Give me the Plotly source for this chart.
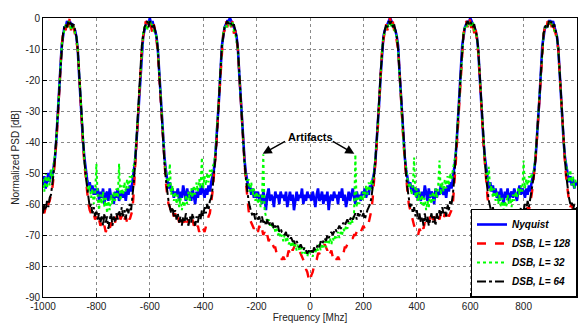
import plotly.graph_objects as go

# Frequency grid [MHz], 5 MHz step
freq = list(range(-1000, 1001, 5))

nyquist = [
 -54,-51,-55,-52,-50,-53,-49,-51,-48,-45,-39,-32,-25,-17,-9,-6,-3,-3,-1,-2,
 -1,-2,-2,-3,-4,-6,-10,-18,-26,-33,-40,-45,-49,-52,-54,-53,-56,-54,-57,-55,
 -57,-55,-59,-56,-58,-55,-60,-57,-56,-59,-55,-58,-57,-60,-56,-58,-55,-59,-57,-56,
 -58,-56,-59,-55,-57,-54,-56,-53,-50,-46,-40,-33,-26,-18,-10,-6,-4,-2,-1,-2,
 0,-2,-1,-3,-4,-6,-10,-17,-25,-33,-40,-45,-49,-52,-55,-53,-56,-55,-58,-56,
 -57,-55,-59,-56,-58,-54,-57,-59,-55,-58,-56,-59,-55,-57,-60,-56,-58,-55,-57,-54,
 -56,-58,-55,-57,-54,-56,-53,-51,-49,-45,-39,-32,-25,-17,-9,-6,-3,-2,-1,-1,
 0,-1,-2,-3,-4,-6,-10,-18,-26,-34,-41,-46,-50,-53,-55,-54,-57,-55,-58,-56,
 -58,-56,-59,-57,-60,-56,-58,-62,-57,-55,-59,-57,-58,-61,-56,-58,-57,-60,-56,-58,
 -57,-59,-56,-61,-58,-56,-59,-57,-62,-58,-56,-59,-57,-58,-55,-60,-57,-59,-56,-58,
 -57,-59,-56,-58,-61,-57,-55,-59,-58,-56,-60,-57,-59,-56,-62,-58,-57,-59,-56,-58,
 -57,-60,-56,-58,-55,-59,-57,-61,-58,-56,-59,-57,-55,-58,-60,-56,-58,-57,-59,-56,
 -57,-55,-58,-56,-57,-54,-55,-52,-50,-46,-40,-33,-26,-18,-10,-6,-4,-3,-2,-1,
 0,-1,-2,-3,-4,-6,-9,-17,-25,-32,-39,-45,-49,-52,-54,-53,-56,-54,-57,-55,
 -58,-55,-57,-59,-56,-58,-54,-57,-59,-55,-58,-56,-57,-60,-55,-58,-56,-57,-54,-56,
 -57,-55,-58,-54,-56,-53,-55,-52,-49,-45,-39,-32,-25,-17,-9,-6,-3,-2,-1,-2,
 0,-1,-2,-3,-4,-6,-10,-18,-26,-33,-40,-45,-49,-52,-55,-53,-56,-54,-57,-55,
 -58,-56,-59,-55,-57,-60,-56,-58,-55,-59,-57,-56,-58,-55,-57,-59,-56,-54,-57,-55,
 -56,-58,-55,-57,-54,-56,-53,-51,-49,-45,-39,-32,-25,-17,-9,-6,-3,-3,-2,-1,
 -1,-2,-1,-3,-4,-6,-10,-18,-26,-33,-40,-45,-48,-50,-53,-51,-54,-52,-55,-53,
 -54]

dsb_128 = [
 -62,-63,-61,-62,-60,-59,-57,-55,-51,-46,-40,-33,-25,-16,-9,-5,-3,-4,-1,-3,
 0,-4,-1,-3,-5,-7,-10,-17,-26,-33,-41,-47,-52,-56,-60,-62,-63,-64,-63,-65,
 -64,-66,-65,-67,-66,-68,-67,-69,-68,-69,-68,-66,-67,-65,-66,-64,-65,-63,-65,-64,
 -63,-65,-64,-66,-64,-65,-63,-62,-56,-48,-41,-33,-26,-17,-10,-6,-3,-1,-2,0,
 -1,-3,-5,-2,-4,-7,-11,-18,-26,-34,-42,-48,-53,-57,-60,-61,-63,-62,-64,-63,
 -65,-64,-66,-65,-67,-65,-66,-64,-66,-65,-67,-66,-65,-67,-66,-68,-67,-69,-68,-69,
 -68,-69,-67,-66,-64,-63,-60,-56,-51,-46,-40,-32,-25,-17,-9,-5,-4,-1,-3,-1,
 -1,-3,-1,-5,-4,-7,-10,-18,-26,-34,-41,-47,-53,-58,-62,-65,-66,-67,-68,-67,
 -68,-69,-67,-69,-68,-70,-69,-71,-70,-72,-71,-73,-73,-74,-74,-76,-76,-77,-77,-78,
 -77,-78,-76,-77,-75,-76,-74,-75,-74,-73,-74,-74,-75,-76,-77,-78,-79,-81,-82,-84,
 -85,-83,-82,-80,-79,-78,-76,-76,-75,-74,-74,-73,-74,-75,-74,-76,-75,-77,-76,-77,
 -78,-77,-78,-77,-76,-76,-74,-74,-73,-72,-72,-71,-71,-70,-70,-69,-69,-68,-69,-68,
 -67,-68,-67,-66,-66,-64,-62,-58,-53,-47,-41,-34,-26,-18,-10,-7,-4,-2,-4,-1,
 0,-3,-1,-4,-5,-7,-10,-17,-26,-33,-40,-46,-52,-56,-60,-62,-64,-65,-67,-68,
 -69,-70,-68,-69,-67,-68,-66,-67,-65,-66,-64,-66,-65,-64,-66,-65,-64,-65,-63,-64,
 -65,-63,-64,-62,-64,-63,-62,-60,-55,-48,-41,-33,-26,-17,-9,-5,-3,-1,-3,0,
 -1,-4,-2,-5,-3,-7,-11,-18,-27,-34,-41,-47,-53,-58,-61,-63,-62,-64,-63,-65,
 -64,-66,-65,-67,-66,-67,-68,-67,-68,-69,-68,-67,-68,-66,-67,-65,-66,-64,-65,-63,
 -64,-62,-63,-61,-62,-60,-57,-54,-50,-45,-39,-32,-25,-17,-9,-5,-3,-4,-1,-2,
 0,-3,-1,-4,-5,-7,-10,-18,-26,-34,-41,-47,-52,-56,-59,-61,-60,-62,-61,-63,
 -62]

dsb_32 = [
 -52,-56,-50,-55,-51,-54,-49,-52,-47,-44,-39,-32,-24,-17,-9,-6,-4,-2,-3,-1,
 -2,-4,-2,-3,-5,-6,-10,-18,-26,-33,-40,-46,-50,-53,-56,-54,-58,-55,-60,-57,
 -47,-58,-62,-57,-60,-56,-61,-58,-63,-59,-62,-57,-60,-56,-59,-55,-58,-47,-59,-54,
 -57,-53,-56,-52,-55,-51,-53,-50,-48,-45,-39,-32,-25,-17,-9,-5,-3,-2,-4,-1,
 -2,-1,-3,-4,-5,-6,-10,-17,-25,-33,-40,-45,-50,-53,-55,-47,-57,-54,-59,-56,
 -60,-57,-61,-58,-62,-59,-61,-57,-60,-56,-59,-55,-58,-54,-57,-53,-56,-52,-55,-45,
 -55,-51,-54,-50,-53,-49,-51,-48,-47,-44,-38,-31,-24,-16,-9,-5,-3,-2,-3,-1,
 -2,-3,-1,-4,-5,-7,-10,-18,-26,-34,-41,-47,-51,-54,-52,-56,-53,-57,-55,-59,
 -56,-60,-57,-61,-59,-44,-62,-64,-66,-65,-67,-66,-68,-67,-69,-68,-70,-69,-71,-70,
 -72,-70,-72,-71,-73,-72,-74,-72,-74,-73,-75,-73,-75,-74,-76,-74,-76,-75,-77,-75,
 -76,-75,-77,-75,-76,-74,-75,-73,-75,-73,-74,-72,-74,-72,-73,-71,-73,-71,-72,-70,
 -71,-69,-71,-69,-70,-68,-69,-67,-68,-66,-67,-65,-66,-63,-44,-61,-58,-60,-57,-59,
 -56,-58,-54,-57,-53,-56,-52,-54,-50,-46,-40,-33,-25,-17,-10,-6,-4,-3,-2,-3,
 -1,-3,-2,-4,-5,-6,-10,-18,-26,-33,-40,-45,-49,-52,-55,-53,-57,-54,-45,-58,
 -55,-59,-56,-60,-57,-61,-58,-62,-59,-61,-57,-60,-56,-59,-55,-58,-54,-46,-57,-53,
 -56,-52,-55,-51,-54,-50,-52,-49,-47,-44,-38,-31,-24,-16,-9,-5,-3,-2,-3,-1,
 -2,-3,-1,-4,-5,-6,-10,-18,-26,-34,-40,-46,-50,-53,-48,-56,-54,-58,-55,-59,
 -56,-60,-57,-61,-58,-62,-59,-61,-57,-60,-58,-61,-57,-59,-56,-58,-55,-57,-54,-56,
 -46,-55,-52,-54,-51,-53,-50,-51,-48,-44,-38,-31,-24,-16,-9,-5,-3,-2,-3,-1,
 -2,-1,-3,-4,-5,-6,-10,-18,-26,-33,-40,-45,-48,-50,-53,-49,-54,-51,-55,-52,
 -53]

dsb_64 = [
 -63,-60,-62,-59,-61,-58,-57,-54,-50,-45,-39,-32,-25,-17,-9,-5,-3,-2,-3,-1,
 -2,-1,-3,-2,-4,-6,-10,-18,-26,-33,-40,-46,-51,-55,-58,-61,-60,-63,-61,-64,
 -62,-65,-63,-66,-64,-67,-63,-66,-64,-68,-65,-63,-67,-64,-66,-63,-65,-62,-64,-61,
 -64,-62,-65,-61,-63,-60,-62,-58,-53,-47,-40,-33,-25,-17,-9,-6,-3,-2,-1,-3,
 -1,-2,-3,-2,-4,-6,-10,-18,-26,-34,-41,-47,-52,-56,-59,-61,-63,-61,-64,-62,
 -65,-63,-66,-64,-67,-64,-66,-63,-65,-67,-64,-66,-63,-65,-67,-64,-66,-63,-65,-62,
 -64,-61,-63,-60,-62,-59,-58,-55,-51,-46,-40,-32,-25,-17,-9,-6,-3,-2,-1,-2,
 -1,-2,-3,-2,-4,-6,-10,-18,-26,-34,-41,-47,-52,-56,-59,-61,-63,-64,-63,-65,
 -63,-65,-64,-66,-64,-66,-65,-67,-65,-67,-66,-67,-66,-68,-67,-68,-67,-69,-68,-69,
 -69,-70,-69,-71,-70,-71,-71,-72,-72,-73,-72,-73,-74,-73,-74,-75,-74,-75,-76,-75,
 -76,-75,-76,-74,-75,-74,-73,-74,-72,-73,-72,-71,-72,-70,-71,-70,-69,-70,-69,-68,
 -69,-68,-67,-68,-67,-66,-67,-66,-65,-66,-65,-64,-65,-64,-63,-65,-63,-64,-62,-64,
 -63,-65,-63,-62,-61,-60,-58,-55,-51,-46,-40,-33,-25,-17,-10,-6,-4,-2,-3,-1,
 -2,-1,-3,-2,-4,-6,-10,-17,-25,-33,-40,-46,-51,-55,-58,-61,-60,-63,-61,-64,
 -62,-65,-63,-66,-64,-67,-63,-66,-64,-67,-65,-63,-66,-64,-67,-63,-65,-62,-64,-61,
 -63,-61,-64,-60,-62,-59,-60,-57,-52,-46,-39,-32,-25,-17,-9,-5,-3,-2,-1,-2,
 -1,-2,-3,-2,-4,-6,-10,-18,-26,-33,-40,-46,-52,-56,-59,-61,-63,-61,-64,-62,
 -65,-63,-66,-64,-67,-65,-68,-64,-66,-67,-65,-68,-64,-66,-63,-65,-62,-64,-61,-63,
 -62,-60,-62,-59,-61,-58,-56,-53,-50,-45,-39,-32,-25,-17,-9,-5,-3,-2,-3,-1,
 -2,-1,-3,-2,-4,-6,-10,-18,-26,-33,-40,-46,-51,-55,-58,-60,-59,-62,-60,-63,
 -61]

for s in (nyquist, dsb_128, dsb_32, dsb_64):
    assert len(s) == len(freq), len(s)

x_ticks = [-1000, -800, -600, -400, -200, 0, 200, 400, 600, 800, 1000]
x_tick_labels = ["-1000", "-800", "-600", "-400", "-200", "0", "200", "400", "600", "800", "1000"]
y_ticks = [-90, -80, -70, -60, -50, -40, -30, -20, -10, 0]
y_tick_labels = ["-90", "-80", "-70", "-60", "-50", "-40", "-30", "-20", "-10", "0"]

series = [
    ("Nyquist", nyquist, "#0000FF", "solid", 2.6),
    ("DSB, L= 128", dsb_128, "#FF0000", "dash", 2.4),
    ("DSB, L= 32", dsb_32, "#00FF00", "dot", 2),
    ("DSB, L= 64", dsb_64, "#000000", "dashdot", 2),
]

fig = go.Figure()
for name, vals, color, dash, w in series:
    fig.add_trace(go.Scatter(x=freq, y=vals, mode="lines", name=name,
                             line=dict(color=color, dash=dash, width=w)))

axis_common = dict(showgrid=True, gridcolor="#8a8a8a", griddash="dot", gridwidth=1,
                   zeroline=False, showline=True, linecolor="black", linewidth=1,
                   mirror=True, ticks="inside", ticklen=4, tickcolor="black")

fig.update_xaxes(range=[-1000, 1000], tickmode="array", tickvals=x_ticks,
                 ticktext=x_tick_labels,
                 title=dict(text="Frequency [Mhz]", standoff=0, font=dict(size=10)),
                 **axis_common)
fig.update_yaxes(range=[-90, 0], tickmode="array", tickvals=y_ticks,
                 ticktext=y_tick_labels,
                 title=dict(text="Normalized PSD [dB]", standoff=4, font=dict(size=10)),
                 **axis_common)

fig.add_annotation(x=0, y=-38.5, text="<b>Artifacts</b>", showarrow=False,
                   font=dict(size=11, color="black"))
fig.add_annotation(x=-177, y=-43.8, ax=-88, ay=-39.5, axref="x", ayref="y",
                   text="", showarrow=True, arrowhead=2, arrowsize=1.2,
                   arrowwidth=1.5, arrowcolor="black")
fig.add_annotation(x=166, y=-43.8, ax=80, ay=-39.5, axref="x", ayref="y",
                   text="", showarrow=True, arrowhead=2, arrowsize=1.2,
                   arrowwidth=1.5, arrowcolor="black")

fig.update_layout(
    width=584, height=325,
    margin=dict(l=43, r=6, t=18, b=25),
    paper_bgcolor="white", plot_bgcolor="white",
    font=dict(family="Liberation Sans, Arial, sans-serif", size=10, color="#222"),
    showlegend=True,
    legend=dict(x=1, y=0, xanchor="right", yanchor="bottom", bgcolor="white",
                bordercolor="black", borderwidth=1,
                font=dict(size=10, color="black", weight="bold", style="italic"),
                tracegroupgap=0, itemwidth=30),
    hovermode=False,
)

fig.write_html("out.html",
               config={"displayModeBar": False, "staticPlot": True},
               post_script="document.body.style.margin='0px';document.body.style.padding='0px';")
